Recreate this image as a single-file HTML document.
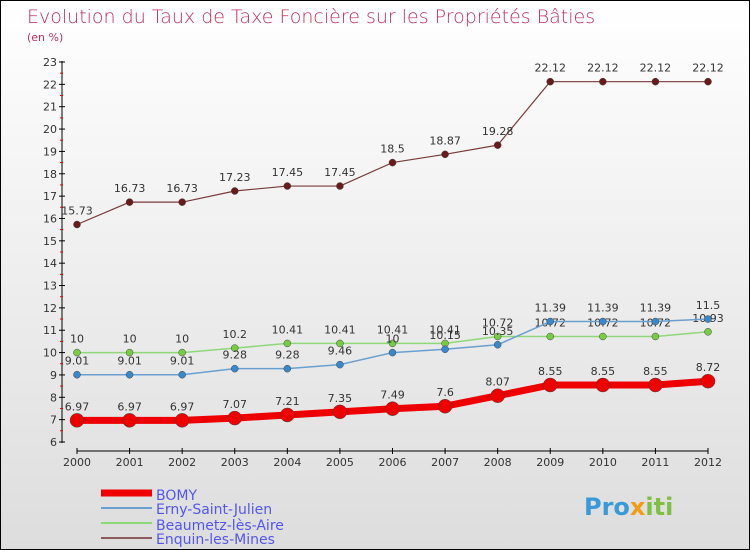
<!DOCTYPE html>
<html><head><meta charset="utf-8"><style>
body{margin:0;}
#c{position:relative;width:748px;height:548px;border:1px solid #000;background:linear-gradient(#fff,#ddd);font-family:"DejaVu Sans","Liberation Sans",sans-serif;overflow:hidden}
</style></head><body>
<div id="c">
<svg id="s" width="748" height="548" xmlns="http://www.w3.org/2000/svg" style="position:absolute;left:0;top:0">
<text x="26" y="22" font-size="19" fill="#c0305a" font-family="DejaVu Sans,sans-serif" font-weight="200">Evolution du Taux de Taxe Foncière sur les Propriétés Bâties</text>
<text x="26" y="40" font-size="11" fill="#c0305a">(en %)</text>
<g id="axes"></g><g id="series"></g>
<g font-size="14" fill="#5555ee">
<line x1="100" y1="492" x2="151" y2="492" stroke="#e00" stroke-width="7"/>
<text x="155" y="499">BOMY</text>
<line x1="100" y1="507" x2="151" y2="507" stroke="#6a9fd0" stroke-width="2"/>
<text x="155" y="513">Erny-Saint-Julien</text>
<line x1="100" y1="522" x2="151" y2="522" stroke="#8ed87a" stroke-width="2"/>
<text x="155" y="529">Beaumetz-lès-Aire</text>
<line x1="100" y1="537" x2="151" y2="537" stroke="#8a5a5a" stroke-width="2"/>
<text x="155" y="543">Enquin-les-Mines</text>
</g>
<text x="583" y="514" font-size="24" font-weight="bold" fill="#3a9ad9">Pro<tspan fill="#f39c12">x</tspan><tspan fill="#7cc143">iti</tspan></text>
</svg>
</div>
<script>
const years=[2000,2001,2002,2003,2004,2005,2006,2007,2008,2009,2010,2011,2012];
const yTicks=[6,7,8,9,10,11,12,13,14,15,16,17,18,19,20,21,22,23];
const bomy=[6.97,6.97,6.97,7.07,7.21,7.35,7.49,7.6,8.07,8.55,8.55,8.55,8.72];
const erny=[9.01,9.01,9.01,9.28,9.28,9.46,10,10.15,10.35,11.39,11.39,11.39,11.5];
const beaumetz=[10,10,10,10.2,10.41,10.41,10.41,10.41,10.72,10.72,10.72,10.72,10.93];
const enquin=[15.73,16.73,16.73,17.23,17.45,17.45,18.5,18.87,19.28,22.12,22.12,22.12,22.12];
const NS="http://www.w3.org/2000/svg";
const xs=i=>76+i*(707-76)/(years.length-1);
const ys=v=>441-(v-6)*(441-61)/17;
function mk(t,a,p){const e=document.createElementNS(NS,t);for(const k in a)e.setAttribute(k,a[k]);p.appendChild(e);return e;}
const ax=document.getElementById('axes');
let l=mk('line',{x1:61,y1:60,x2:61,y2:442,stroke:'#000','stroke-width':1},ax);


l=mk('line',{x1:76,y1:450,x2:707,y2:450,stroke:'#000','stroke-width':1},ax);


yTicks.forEach(v=>{const y=ys(v);
mk('line',{x1:58,y1:y,x2:64,y2:y,stroke:'#000'},ax);
if(v<23)mk('line',{x1:59,y1:y-11.2,x2:62,y2:y-11.2,stroke:'#e00'},ax);
const t=mk('text',{x:56,y:y+4,'font-size':11,fill:'#333','text-anchor':'end'},ax);t.textContent=v;

});
years.forEach((yr,i)=>{const x=xs(i);
mk('line',{x1:x,y1:447,x2:x,y2:453,stroke:'#000'},ax);
const t=mk('text',{x:x,y:465,'font-size':11,fill:'#333','text-anchor':'middle'},ax);t.textContent=yr;

});
const sg=document.getElementById('series');
function series(d,name,col,w,r,dot){
const g=mk('g',{},sg);


const p=mk('polyline',{points:d.map((v,i)=>xs(i)+','+ys(v)).join(' '),fill:'none',stroke:col,'stroke-width':w,'stroke-linejoin':'round'},g);


d.forEach((v,i)=>{const c=mk('circle',{cx:xs(i),cy:ys(v),r:r,fill:dot,stroke:'#444','stroke-width':0.5},g);


const t=mk('text',{x:xs(i),y:ys(v)-10,'font-size':11,fill:'#333','text-anchor':'middle'},g);t.textContent=v;

});}
series(enquin,'enquin','#7a3a3a',1.2,3.5,'#6a1a1a');
series(beaumetz,'beaumetz','#8ed87a',1.5,3.5,'#77cc44');
series(erny,'erny','#6a9fd0',1.5,3.5,'#3a88cc');
series(bomy,'bomy','#e00',7,7,'#e00');
</script>
</body></html>
